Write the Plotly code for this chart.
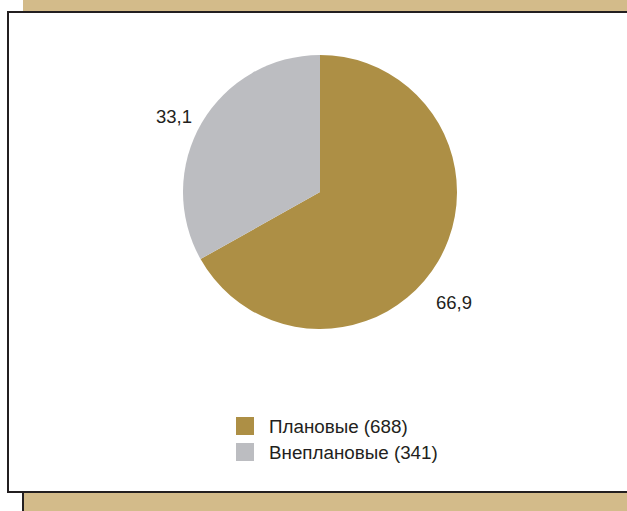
import plotly.graph_objects as go

# Inspection counts by type
categories = ["Плановые", "Внеплановые"]
counts = [688, 341]
colors = ["#ad8f45", "#bcbdc1"]

W, H = 627, 511
TAN = "#d3bb8a"
INK = "#231f20"
FONT = "Liberation Sans, Arial, Helvetica, sans-serif"


def px(x):
    return x / W


def py(y):
    return 1 - y / H


total = sum(counts)
pct_text = [f"{v / total * 100:.1f}".replace(".", ",") for v in counts]

cx, cy, r = 320, 192, 137

fig = go.Figure(
    go.Pie(
        labels=categories,
        values=counts,
        marker=dict(colors=colors, line=dict(width=0)),
        sort=False,
        direction="clockwise",
        rotation=0,
        textinfo="none",
        hoverinfo="label+value+percent",
        showlegend=False,
        domain=dict(x=[px(cx - r), px(cx + r)], y=[py(cy + r), py(cy - r)]),
    )
)

shapes = [
    # tan strip above the panel
    dict(type="rect", x0=px(23), x1=1.02, y0=py(12), y1=1.02, fillcolor=TAN,
         line=dict(width=0), layer="below"),
    # tan strip below the panel
    dict(type="rect", x0=px(23), x1=1.02, y0=-0.02, y1=py(492), fillcolor=TAN,
         line=dict(width=0), layer="below"),
    dict(type="line", x0=px(23), x1=px(23), y0=-0.02, y1=py(492),
         line=dict(color=INK, width=2), layer="below"),
    # white framed panel
    dict(type="rect", x0=px(8), x1=1.05, y0=py(492), y1=py(12), fillcolor="white",
         line=dict(color=INK, width=2), layer="below"),
]

annotations = []
# percentage labels beside the slices
label_pos = [(454, 302), (174, 116)]
for t, (x, y) in zip(pct_text, label_pos):
    annotations.append(dict(x=px(x), y=py(y), xref="paper", yref="paper", text=t,
                            showarrow=False, xanchor="center", yanchor="middle",
                            font=dict(family=FONT, size=18.5, color=INK)))

# legend
leg_x, leg_y0, leg_dy, sq = 236, 417, 26, 18
for i, (name, v, c) in enumerate(zip(categories, counts, colors)):
    top = leg_y0 + i * leg_dy
    shapes.append(dict(type="rect", x0=px(leg_x), x1=px(leg_x + sq), y0=py(top + sq),
                       y1=py(top), fillcolor=c, line=dict(width=0)))
    annotations.append(dict(x=px(267), y=py(top + sq / 2), xref="paper", yref="paper",
                            text=f"{name} ({v})", showarrow=False, xanchor="left",
                            yanchor="middle", font=dict(family=FONT, size=18.8, color=INK)))

fig.update_layout(
    width=W,
    height=H,
    margin=dict(l=0, r=0, t=0, b=0),
    paper_bgcolor="white",
    plot_bgcolor="white",
    shapes=shapes,
    annotations=annotations,
)

fig.write_html("out.html", include_plotlyjs=True, full_html=True,
               config={"displayModeBar": False})
